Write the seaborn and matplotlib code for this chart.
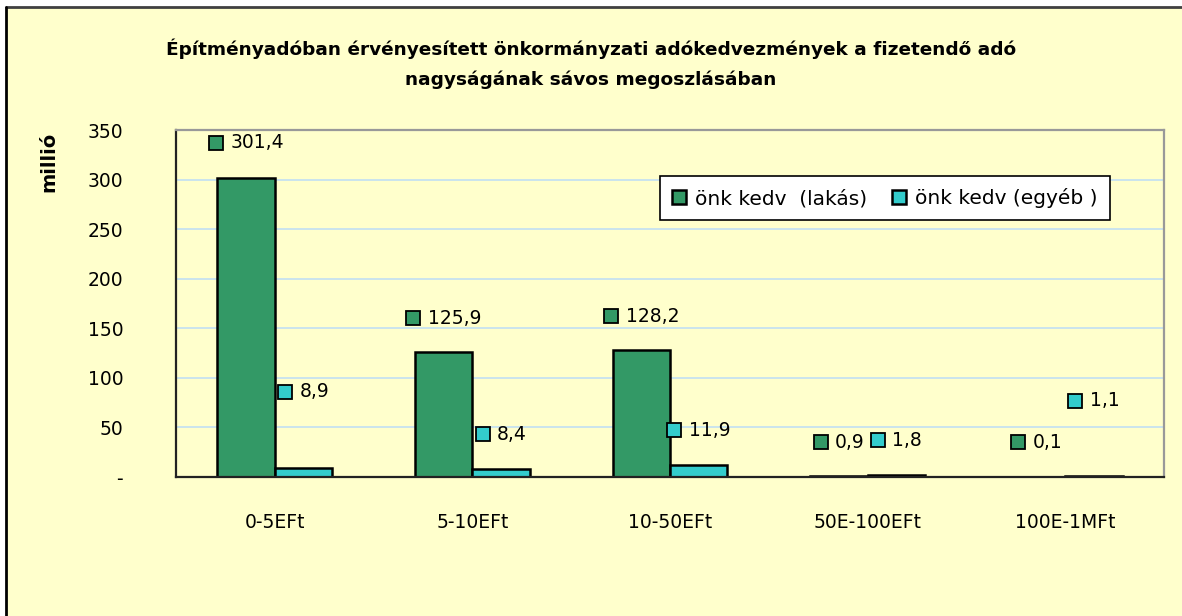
import numpy as np
import pandas as pd
import matplotlib
matplotlib.use("Agg")
import matplotlib.pyplot as plt
from matplotlib.patches import Rectangle
from matplotlib.lines import Line2D
from matplotlib.transforms import offset_copy
import seaborn as sns

# %%
categories = ["0-5EFt", "5-10EFt", "10-50EFt", "50E-100EFt", "100E-1MFt"]
series = ["önk kedv  (lakás)", "önk kedv (egyéb )"]
lakas = [301.4, 125.9, 128.2, 0.9, 0.1]
egyeb = [8.9, 8.4, 11.9, 1.8, 1.1]
# height where the (hand-moved) data labels sit, in millió
lakas_label_y = [337, 160, 162, 35, 35]
egyeb_label_y = [86, 43, 47, 37, 77]
yticks = [0, 50, 100, 150, 200, 250, 300, 350]
ytick_labels = ["-", "50", "100", "150", "200", "250", "300", "350"]

title = ("Építményadóban érvényesített önkormányzati adókedvezmények a fizetendő adó\n"
         "nagyságának sávos megoszlásában")

colors = ["#339966", "#33CCCC"]
bg = "#FFFFCC"
fs = 13.5

df = pd.DataFrame({
    "sav": categories * 2,
    "sorozat": [series[0]] * len(categories) + [series[1]] * len(categories),
    "ertek": lakas + egyeb,
})

# %%
sns.set_style("white")
plt.rcParams["font.family"] = ["DejaVu Sans"]
plt.rcParams.update({"text.color": "black", "axes.labelcolor": "black",
                     "xtick.color": "black", "ytick.color": "black"})

W, H = 1182, 616
fig = plt.figure(figsize=(W / 100, H / 100), dpi=100, facecolor="white")
# chart area: yellow, frame only shows on top and left (the rest is cut off)
fig.patches.append(Rectangle((6 / W, 0), 1, 1 - 7 / H, transform=fig.transFigure,
                             facecolor=bg, edgecolor="none", zorder=-10))
fig.lines.append(Line2D([6 / W, 1], [1 - 7 / H, 1 - 7 / H], transform=fig.transFigure,
                        color="#404040", lw=2))
fig.lines.append(Line2D([6 / W, 6 / W], [0, 1 - 7 / H], transform=fig.transFigure,
                        color="black", lw=2))

ax = fig.add_axes([176 / W, 1 - 477 / H, 988 / W, 347 / H])
ax.set_facecolor(bg)

sns.barplot(data=df, x="sav", y="ertek", hue="sorozat", palette=colors, saturation=1,
            width=0.58, edgecolor="black", linewidth=1.8, ax=ax)

# data labels: little legend key + value, centred over each bar
fig.canvas.draw()
renderer = fig.canvas.get_renderer()
for cont, ys, col in zip(ax.containers, [lakas_label_y, egyeb_label_y], colors):
    for bar, y in zip(cont, ys):
        xc = bar.get_x() + bar.get_width() / 2
        s = f"{bar.get_height():.1f}".replace(".", ",")
        t = ax.text(xc, y, s, ha="left", va="center", fontsize=fs)
        w = t.get_window_extent(renderer).width
        total = 15 + 7 + w
        t.set_transform(offset_copy(ax.transData, fig=fig, x=-total / 2 + 22, y=0, units="dots"))
        ax.plot([xc], [y], marker="s", ms=10, mfc=col, mec="black", mew=1.3, clip_on=False,
                transform=offset_copy(ax.transData, fig=fig, x=-total / 2 + 7.5, y=0, units="dots"))

ax.set_xlim(-0.5, 4.5)
ax.set_ylim(0, 350)
ax.set_yticks(yticks, ytick_labels)
ax.yaxis.grid(True, color="#C6E2F0", lw=1.3)
ax.set_axisbelow(True)

ax.set_xticks(range(len(categories)), categories)
ax.set_xticks(np.arange(-0.5, len(categories), 1), minor=True)
ax.tick_params(axis="x", which="major", length=0, pad=26, labelsize=fs)
ax.tick_params(axis="x", which="minor", length=6, width=1.3, color="#333333", direction="out")
ax.tick_params(axis="y", length=6, width=1.3, color="#666666", direction="out", pad=32, labelsize=fs)

for side in ["left", "bottom"]:
    ax.spines[side].set_color("#222222")
    ax.spines[side].set_linewidth(1.6)
for side in ["top", "right"]:
    ax.spines[side].set_color("#999999")
    ax.spines[side].set_linewidth(1.6)

ax.set_xlabel("")
ax.set_ylabel("millió", fontsize=14, fontweight="bold")
ax.yaxis.set_label_coords(-0.1194, 0.909)

sns.move_legend(ax, "upper right", bbox_to_anchor=(0.9453, 0.8674), borderaxespad=0,
                ncol=2, title=None, frameon=True, fancybox=False, framealpha=1,
                edgecolor="black", facecolor="white", fontsize=14.5,
                handlelength=0.7, handleheight=0.7, handletextpad=0.45,
                columnspacing=1.25, borderpad=0.6)
ax.get_legend().get_frame().set_linewidth(1.2)

fig.text(0.5, 1 - 63.5 / H, title, ha="center", va="center", fontsize=13.3,
         fontweight="bold", linespacing=1.8)

fig.savefig("out.png", dpi=100, facecolor=fig.get_facecolor())
